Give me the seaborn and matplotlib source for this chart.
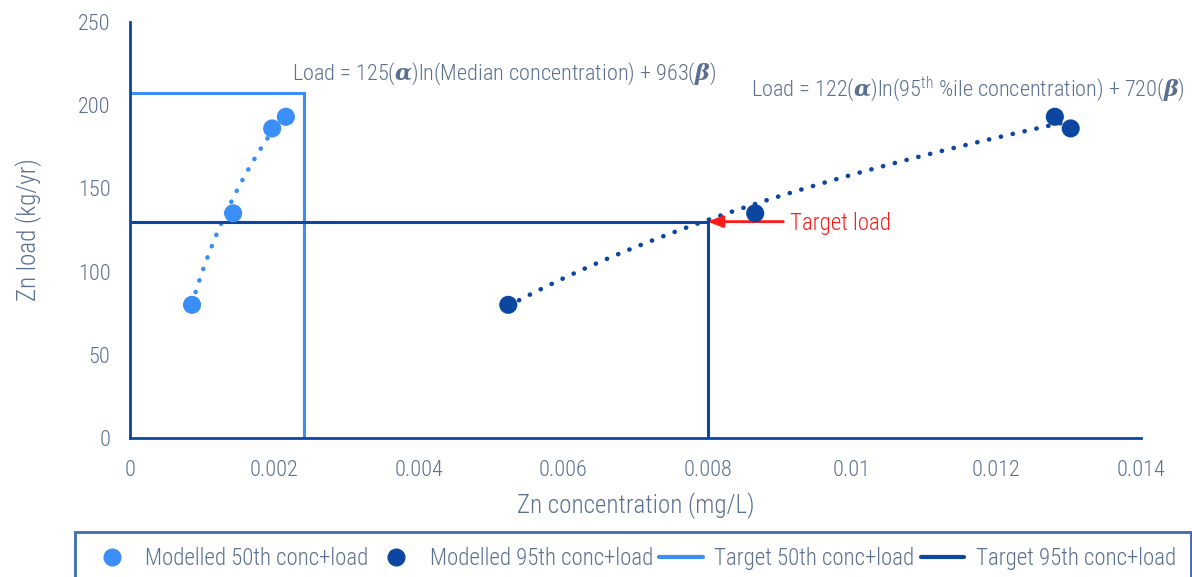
import numpy as np
import pandas as pd
import matplotlib
matplotlib.use("Agg")
import matplotlib.pyplot as plt
import seaborn as sns
from matplotlib.lines import Line2D

# Modelled concentration / load pairs
conc_50 = [0.00086, 0.00143, 0.00197, 0.00216]
load_50 = [80, 135, 186, 193]
conc_95 = [0.00524, 0.00866, 0.01281, 0.01303]
load_95 = [80, 135, 193, 186]

# Logarithmic trend coefficients (Load = a*ln(conc) + b)
coef_50 = (125, 963)
coef_95 = (122, 720)

# Target lines
target_50_conc = [0.0, 0.00241, 0.00241]
target_50_load = [207, 207, 0]
target_95_conc = [0.0, 0.008, 0.008]
target_95_load = [130, 130, 0]
target_load = 130

x_ticks = [0, 0.002, 0.004, 0.006, 0.008, 0.01, 0.012, 0.014]
x_tick_labels = ["0", "0.002", "0.004", "0.006", "0.008", "0.01", "0.012", "0.014"]
y_ticks = [0, 50, 100, 150, 200, 250]

LIGHT = "#3a8ef6"
DARK = "#0b47a1"
TEXT = "#5b7090"
RED = "#ff1a1a"

sns.set_style("white")
plt.rcParams["font.family"] = ["Roboto Condensed", "DejaVu Sans"]
plt.rcParams["font.weight"] = 300
plt.rcParams["mathtext.fontset"] = "custom"
plt.rcParams["mathtext.rm"] = "Roboto Condensed:light"
plt.rcParams["mathtext.it"] = "DejaVu Serif:italic:bold"
plt.rcParams["mathtext.bf"] = "DejaVu Serif:italic:bold"

fig = plt.figure(figsize=(11.92, 5.77), dpi=100)
ax = fig.add_axes([0.109, 0.241, 0.848, 0.721])

# Trend curves
for conc, coef, col in [(conc_50, coef_50, LIGHT), (conc_95, coef_95, DARK)]:
    xs = np.linspace(min(conc), max(conc), 100)
    ys = coef[0] * np.log(xs) + coef[1]
    sns.lineplot(x=xs, y=ys, ax=ax, color=col, lw=3.3,
                 linestyle=(0, (0.05, 2.6)), dash_capstyle="round", legend=False)

# Target lines
ax.plot(target_50_conc, target_50_load, color=LIGHT, lw=2.2, solid_joinstyle="miter")
ax.plot(target_95_conc, target_95_load, color=DARK, lw=2.2, solid_joinstyle="miter")

# Modelled points
df = pd.DataFrame({
    "conc": conc_50 + conc_95,
    "load": load_50 + load_95,
    "series": ["Modelled 50th conc+load"] * len(conc_50) + ["Modelled 95th conc+load"] * len(conc_95),
})
sns.scatterplot(data=df, x="conc", y="load", hue="series",
                palette={"Modelled 50th conc+load": LIGHT, "Modelled 95th conc+load": DARK},
                s=170, edgecolor="none", ax=ax, legend=False, zorder=5)

ax.set_xlim(0, 0.014)
ax.set_ylim(0, 250)
ax.set_xticks(x_ticks)
ax.set_xticklabels(x_tick_labels)
ax.set_yticks(y_ticks)
for side in ["top", "right"]:
    ax.spines[side].set_visible(False)
for side in ["left", "bottom"]:
    ax.spines[side].set_color(DARK)
    ax.spines[side].set_linewidth(2)
ax.tick_params(axis="both", colors=DARK, labelcolor=TEXT, labelsize=16,
               length=6, width=2, direction="out")
ax.tick_params(axis="x", pad=10)
ax.tick_params(axis="y", pad=8)
ax.set_xlabel("Zn concentration (mg/L)", color=TEXT, fontsize=18, labelpad=8, fontweight=300)
ax.set_ylabel("Zn load (kg/yr)", color=TEXT, fontsize=18, labelpad=26, fontweight=300)

# Equation labels
ax.text(0.00225, 218.8, r"Load = 125($\mathbf{\alpha}$)ln(Median concentration) + 963($\mathbf{\beta}$)",
        color=TEXT, fontsize=16, ha="left", va="center")
ax.text(0.0086, 209.5, r"Load = 122($\mathbf{\alpha}$)ln(95$^{\mathrm{th}}$ %ile concentration) + 720($\mathbf{\beta}$)",
        color=TEXT, fontsize=16, ha="left", va="center")

# Target load marker
ax.annotate("", xy=(0.008, target_load), xytext=(0.00905, target_load),
            arrowprops=dict(arrowstyle="-|>,head_length=0.9,head_width=0.35", color=RED, lw=2,
                            shrinkA=0, shrinkB=0))
ax.text(0.00914, target_load - 1, "Target load", color=RED, fontsize=16.5, ha="left", va="center")

# Legend
handles = [
    Line2D([], [], marker="o", ls="none", color=LIGHT, markersize=12),
    Line2D([], [], marker="o", ls="none", color=DARK, markersize=12),
    Line2D([], [], color=LIGHT, lw=3),
    Line2D([], [], color=DARK, lw=3),
]
labels = ["Modelled 50th conc+load", "Modelled 95th conc+load",
          "Target 50th conc+load", "Target 95th conc+load"]
leg = fig.legend(handles, labels, ncol=4, loc="upper left",
                 bbox_to_anchor=(0.063, 0.078, 0.936, 0.0), mode="expand",
                 frameon=True, fancybox=False, fontsize=16.5, labelcolor=TEXT,
                 handlelength=1.9, handletextpad=0.5, columnspacing=0.4,
                 borderaxespad=0, borderpad=0.65)
leg.get_frame().set_edgecolor(DARK)
leg.get_frame().set_linewidth(2)

fig.savefig("out.png", dpi=100)
